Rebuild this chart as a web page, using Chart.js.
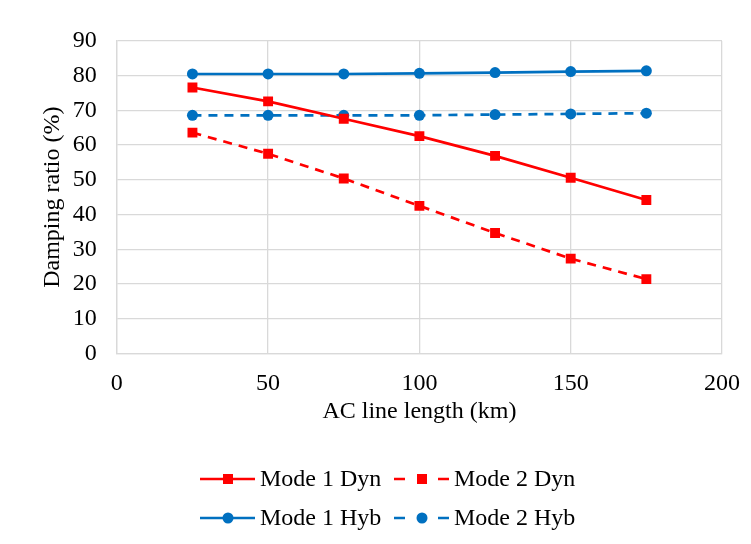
<!DOCTYPE html>
<html>
<head>
<meta charset="utf-8">
<script src="https://cdn.jsdelivr.net/npm/chart.js@4"></script>
<style>
  html, body { margin: 0; padding: 0; background: #fff; }
  #wrap { width: 751px; height: 544px; }
</style>
</head>
<body>
<div id="wrap"><canvas id="myChart" width="751" height="544"></canvas></div>
<script>
var lengths = [25, 50, 75, 100, 125, 150, 175]
var mode1Dyn = [76.6, 72.6, 67.6, 62.6, 56.9, 50.6, 44.2]
var mode2Dyn = [63.6, 57.5, 50.4, 42.5, 34.7, 27.3, 21.4]
var mode1Hyb = [80.5, 80.5, 80.5, 80.7, 80.9, 81.2, 81.4]
var mode2Hyb = [68.6, 68.6, 68.6, 68.6, 68.8, 69.0, 69.2]

var RED = '#ff0000'
var BLUE = '#0070c0'
var FONT = "'Liberation Serif', 'Times New Roman', serif"

function pts(vals) {
  return vals.map(function (v, i) { return { x: lengths[i], y: v } })
}

function series(label, vals, color, shape, dashed) {
  return {
    label: label,
    data: pts(vals),
    borderColor: color,
    backgroundColor: color,
    borderWidth: 2.7,
    borderDash: dashed ? [9, 7] : [],
    pointStyle: shape,
    pointRadius: shape === 'rect' ? 7 : 5.5,
    pointBorderWidth: 0,
    tension: 0,
  }
}

// legend drawn in two rows of two, like the original
var legendPlugin = {
  id: 'twoRowLegend',
  afterDraw: function (chart) {
    var c = chart.ctx
    var cols = [200, 394]
    var rows = [479, 518]
    c.save()
    c.font = '24px ' + FONT
    c.textBaseline = 'middle'
    chart.data.datasets.forEach(function (ds, k) {
      var x0 = cols[k % 2]
      var y = rows[Math.floor(k / 2)]
      var x1 = x0 + 55
      var mid = x0 + 28
      c.strokeStyle = ds.borderColor
      c.fillStyle = ds.borderColor
      c.lineWidth = 2.7
      c.beginPath()
      if (ds.borderDash.length) {
        c.moveTo(x0, y); c.lineTo(x0 + 11, y)
        c.moveTo(x1 - 11, y); c.lineTo(x1, y)
      } else {
        c.moveTo(x0, y); c.lineTo(x1, y)
      }
      c.stroke()
      if (ds.pointStyle === 'rect') {
        c.fillRect(mid - 5, y - 5, 10, 10)
      } else {
        c.beginPath()
        c.arc(mid, y, 5.5, 0, Math.PI * 2)
        c.fill()
      }
      c.fillStyle = '#000'
      c.fillText(ds.label, x1 + 5, y + 1)
    })
    c.restore()
  },
}

var ctx = document.getElementById('myChart').getContext('2d')
var myChart = new Chart(ctx, {
  type: 'line',
  data: {
    datasets: [
      series('Mode 1 Dyn', mode1Dyn, RED, 'rect', false),
      series('Mode 2 Dyn', mode2Dyn, RED, 'rect', true),
      series('Mode 1 Hyb', mode1Hyb, BLUE, 'circle', false),
      series('Mode 2 Hyb', mode2Hyb, BLUE, 'circle', true),
    ],
  },
  options: {
    responsive: false,
    animation: { duration: 0 },
    layout: { padding: { top: 41, right: 2, bottom: 118, left: 38 } },
    plugins: {
      legend: { display: false },
      tooltip: { enabled: false },
    },
    scales: {
      x: {
        type: 'linear',
        min: 0,
        max: 200,
        afterFit: function (s) { s.paddingRight = 29 },
        ticks: { stepSize: 50, color: '#000', padding: 16, font: { family: FONT, size: 24 } },
        grid: { color: '#d9d9d9', lineWidth: 1.3, drawTicks: false },
        border: { color: '#d9d9d9', width: 1.3 },
        title: {
          display: true,
          text: 'AC line length (km)',
          color: '#000',
          padding: { top: -17, bottom: 0 },
          font: { family: FONT, size: 24 },
        },
      },
      y: {
        min: 0,
        max: 90,
        ticks: { stepSize: 10, color: '#000', padding: 20, font: { family: FONT, size: 24 } },
        grid: { color: '#d9d9d9', lineWidth: 1.3, drawTicks: false },
        border: { color: '#d9d9d9', width: 1.3 },
        title: {
          display: true,
          text: 'Damping ratio (%)',
          color: '#000',
          padding: { top: 0, bottom: -14 },
          font: { family: FONT, size: 24 },
        },
      },
    },
  },
  plugins: [legendPlugin],
})
</script>
</body>
</html>
